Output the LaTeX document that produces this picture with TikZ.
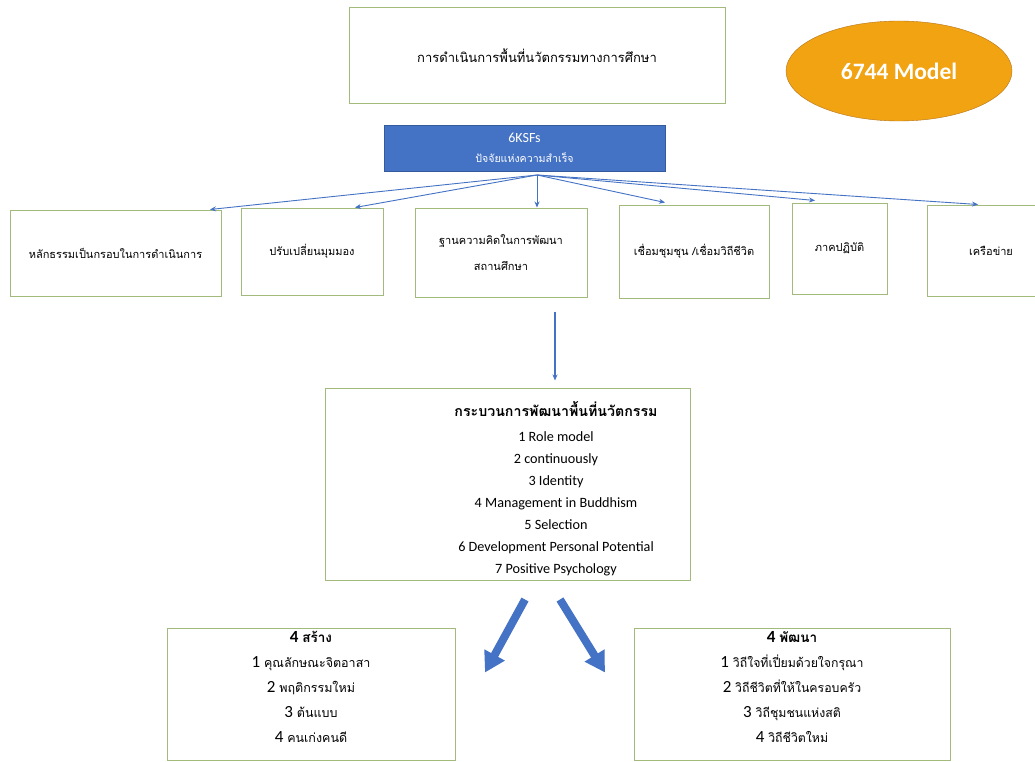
\documentclass[tikz,border=0pt]{standalone}
\usepackage{fontspec}
\setmainfont{Carlito}
\newfontfamily\thaifont[Script=Thai]{Loma}
\usetikzlibrary{shapes.geometric,arrows.meta}
\definecolor{boxgreen}{RGB}{163,186,125}
\definecolor{ksfblue}{RGB}{68,114,196}
\definecolor{modelorange}{RGB}{242,163,18}
\definecolor{modeledge}{RGB}{180,115,25}

\begin{document}
\begin{tikzpicture}[x=1pt, y=-1pt,
	greenbox/.style={draw=boxgreen, line width=1pt, fill=white, inner sep=0pt, align=center},
	link/.style={draw=ksfblue, line width=0.9pt, -{Stealth[length=6pt, width=5pt]}},
	bigarrow/.style={draw=ksfblue, line width=8pt, -{Triangle[length=20pt, width=22pt]}}]
	\useasboundingbox[fill=white] (0, 0) rectangle (1035, 762);

	\node[greenbox, minimum width=376pt, minimum height=96pt, font=\thaifont\fontsize{13}{16}\selectfont] (title) at (537, 56) {การดำเนินการพื้นที่นวัตกรรมทางการศึกษา};
	\node[ellipse, draw=modeledge, fill=modelorange, minimum width=226pt, minimum height=100pt, text=white, font=\bfseries\fontsize{23.5}{26}\selectfont] (model) at (899, 71) {6744 Model};
	\node[fill=ksfblue, draw=ksfblue!80!black, minimum width=281pt, minimum height=46pt, text=white, align=center, font=\fontsize{14}{20}\selectfont] (ksf) at (524.5, 148) {6KSFs\\{\thaifont\fontsize{10.6}{20}\selectfont ปัจจัยแห่งความสำเร็จ}};
	\coordinate (hub) at (537, 175);

	\node[greenbox, minimum width=211pt, minimum height=86pt, font=\thaifont\fontsize{11}{26}\selectfont] (b1) at (115.5, 253) {หลักธรรมเป็นกรอบในการดำเนินการ};
	\node[greenbox, minimum width=142pt, minimum height=87pt, font=\thaifont\fontsize{11}{26}\selectfont] (b2) at (312, 251.5) {ปรับเปลี่ยนมุมมอง};
	\node[greenbox, minimum width=172pt, minimum height=89pt, font=\thaifont\fontsize{11}{26}\selectfont] (b3) at (501, 252.5) {ฐานความคิดในการพัฒนา\\สถานศึกษา};
	\node[greenbox, minimum width=150pt, minimum height=93pt, font=\thaifont\fontsize{11}{26}\selectfont] (b4) at (694, 251.5) {เชื่อมชุมชุน /เชื่อมวิถีชีวิต};
	\node[greenbox, minimum width=95pt, minimum height=91pt, font=\thaifont\fontsize{11}{26}\selectfont] (b5) at (839.5, 248.5) {ภาคปฏิบัติ};
	\node[greenbox, minimum width=128pt, minimum height=91pt, font=\thaifont\fontsize{11}{26}\selectfont] (b6) at (991, 250.5) {เครือข่าย};

	\draw[link] (hub) -- ([xshift=94.5pt]b1.north);
	\draw[link] (hub) -- ([xshift=43pt]b2.north);
	\draw[link] (hub) -- ([xshift=36pt]b3.north);
	\draw[link] (hub) -- ([xshift=-29pt, yshift=2pt]b4.north);
	\draw[link] (hub) -- ([xshift=-24.5pt, yshift=2pt]b5.north);
	\draw[link] (hub) -- ([xshift=-13pt]b6.north);

	\node[greenbox, minimum width=365pt, minimum height=192pt] (proc) at (507.5, 484) {};
	\node[align=center, font=\fontsize{14.2}{22}\selectfont] (proctext) at (556, 488.5) {{\thaifont\bfseries\fontsize{14.2}{22}\selectfont กระบวนการพัฒนาพื้นที่นวัตกรรม}\\[3pt]
		1 Role model\\2 continuously\\3 Identity\\4 Management in Buddhism\\5 Selection\\6 Development Personal Potential\\7 Positive Psychology};
	\draw[link, line width=1.2pt] ([xshift=54pt, yshift=-14pt]b3.south) -- ([xshift=47.5pt, yshift=7pt]proc.north);

	\node[greenbox, minimum width=288pt, minimum height=132pt] (create) at (311, 694) {};
	\node[anchor=north, align=center, font=\fontsize{17}{25}\selectfont] (createtext) at (create.north) {\textbf{4 {\thaifont\fontsize{13.5}{25}\selectfont สร้าง}}\\1 {\thaifont\fontsize{12.5}{25}\selectfont คุณลักษณะจิตอาสา}\\2 {\thaifont\fontsize{12.5}{25}\selectfont พฤติกรรมใหม่}\\3 {\thaifont\fontsize{12.5}{25}\selectfont ต้นแบบ}\\4 {\thaifont\fontsize{12.5}{25}\selectfont คนเก่งคนดี}};
	\node[greenbox, minimum width=316pt, minimum height=132pt] (develop) at (792, 694) {};
	\node[anchor=north, align=center, font=\fontsize{17}{25}\selectfont] (developtext) at (develop.north) {\textbf{4 {\thaifont\fontsize{13.5}{25}\selectfont พัฒนา}}\\1 {\thaifont\fontsize{12.3}{25}\selectfont วิถีใจที่เปี่ยมด้วยใจกรุณา}\\2 {\thaifont\fontsize{12.3}{25}\selectfont วิถีชีวิตที่ให้ในครอบครัว}\\3 {\thaifont\fontsize{12.3}{25}\selectfont วิถีชุมชนแห่งสติ}\\4 {\thaifont\fontsize{12.3}{25}\selectfont วิถีชีวิตใหม่}};

	\draw[bigarrow] ([xshift=17.5pt, yshift=-19pt]proc.south) -- ([xshift=174pt, yshift=-45pt]create.north);
	\draw[bigarrow] ([xshift=52.5pt, yshift=-19pt]proc.south) -- ([xshift=-187pt, yshift=-45pt]develop.north);
\end{tikzpicture}
\end{document}
